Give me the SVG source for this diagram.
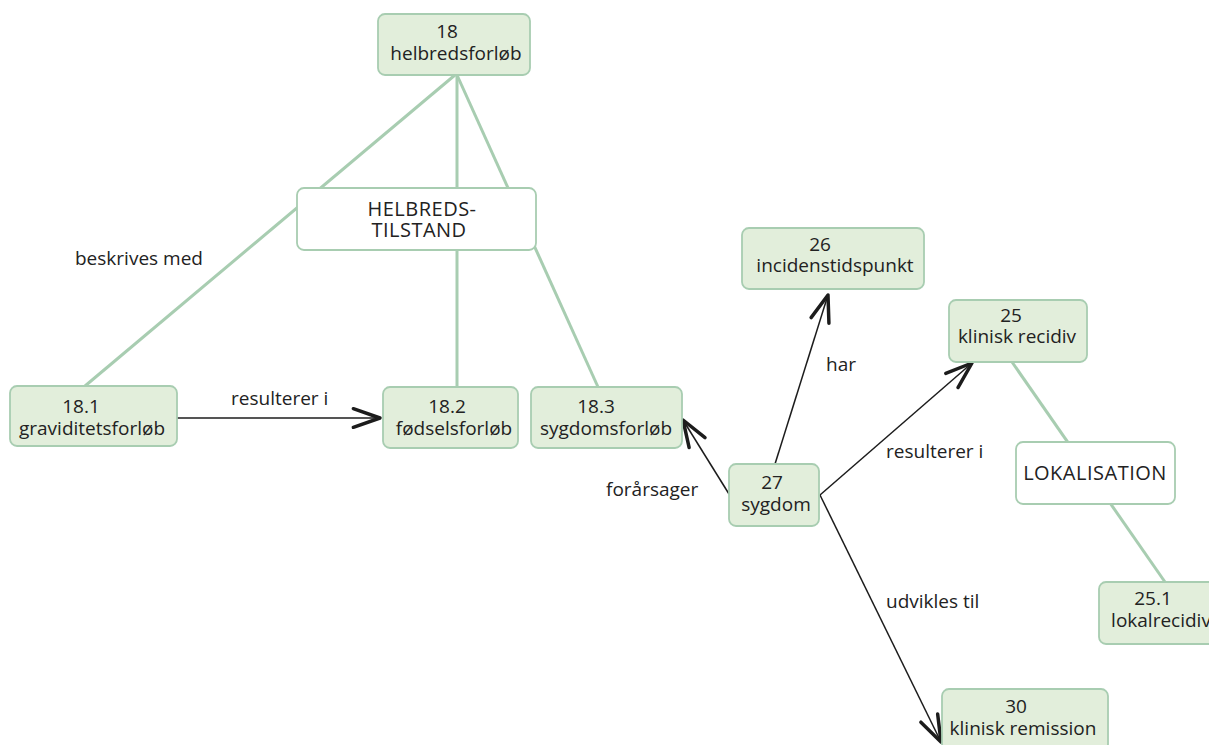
<svg xmlns="http://www.w3.org/2000/svg" width="1209" height="745" viewBox="0 0 1209 745">
<defs>
<style>
.n rect{fill:#e2eedb;stroke:#a8cdb1;stroke-width:1.8}
.w rect{fill:#ffffff;stroke:#a8cdb1;stroke-width:1.8}
text{font-family:"Open Sans","Liberation Sans",sans-serif;font-size:19px;fill:#222222;text-anchor:middle}
.caps{font-size:20px;letter-spacing:0.5px}
.lbl{text-anchor:start}
.g line{stroke:#a8cdb1;stroke-width:3}
.b line{stroke:#1c1c1c;stroke-width:1.5;marker-end:url(#arr)}
</style>
<marker id="arr" markerUnits="userSpaceOnUse" markerWidth="40" markerHeight="40" refX="0" refY="0" orient="auto" overflow="visible" viewBox="-25 -12 30 24">
<path d="M-20,-7 L0,0 L-20,7" fill="none" stroke="#1c1c1c" stroke-width="2.6" stroke-linejoin="round" stroke-linecap="round"/>
</marker>
</defs>
<g id="connectors">
<g class="g">
<line x1="455" y1="75" x2="85" y2="386"/>
<line x1="457" y1="75" x2="457" y2="387"/>
<line x1="457" y1="75" x2="598" y2="387"/>
<line x1="1012" y1="362" x2="1165" y2="582"/>
</g>
<g class="b">
<line x1="177" y1="418" x2="380" y2="418"/>
<line x1="729" y1="494" x2="683" y2="420"/>
<line x1="775" y1="464" x2="828" y2="295"/>
<line x1="820" y1="495" x2="972" y2="363"/>
<line x1="820" y1="495" x2="941" y2="742"/>
</g>
<text class="lbl" x="75" y="265">beskrives med</text>
<text class="lbl" x="231" y="405">resulterer i</text>
<text class="lbl" x="826" y="371">har</text>
<text class="lbl" x="886" y="458">resulterer i</text>
<text class="lbl" x="606" y="496">forårsager</text>
<text class="lbl" x="886" y="608">udvikles til</text>
</g>
<g id="n18" class="n"><rect x="378" y="14" width="152" height="61" rx="7"/><text><tspan x="447" y="38">18</tspan><tspan x="456" y="60">helbredsforløb</tspan></text></g>
<g id="nHelbred" class="w"><rect x="297" y="188" width="239" height="62" rx="7"/><text class="caps"><tspan x="422" y="216">HELBREDS-</tspan><tspan x="419" y="237">TILSTAND</tspan></text></g>
<g id="n18_1" class="n"><rect x="10" y="386" width="167" height="60" rx="7"/><text><tspan x="81" y="413">18.1</tspan><tspan x="92" y="435">graviditetsforløb</tspan></text></g>
<g id="n18_2" class="n"><rect x="383" y="387" width="135" height="61" rx="7"/><text><tspan x="447" y="413">18.2</tspan><tspan x="454" y="435">fødselsforløb</tspan></text></g>
<g id="n18_3" class="n"><rect x="531" y="387" width="151" height="61" rx="7"/><text><tspan x="596" y="413">18.3</tspan><tspan x="606" y="435">sygdomsforløb</tspan></text></g>
<g id="n27" class="n"><rect x="729" y="464" width="90" height="62" rx="7"/><text><tspan x="772" y="489">27</tspan><tspan x="776" y="511">sygdom</tspan></text></g>
<g id="n26" class="n"><rect x="742" y="228" width="182" height="61" rx="7"/><text><tspan x="820" y="251">26</tspan><tspan x="835" y="272">incidenstidspunkt</tspan></text></g>
<g id="n25" class="n"><rect x="949" y="300" width="138" height="62" rx="7"/><text><tspan x="1011" y="322">25</tspan><tspan x="1017" y="343">klinisk recidiv</tspan></text></g>
<g id="nLokal" class="w"><rect x="1016" y="442" width="159" height="62" rx="7"/><text class="caps" x="1095" y="480">LOKALISATION</text></g>
<g id="n25_1" class="n"><rect x="1099" y="582" width="126" height="62" rx="7"/><text><tspan x="1153" y="605">25.1</tspan><tspan x="1161" y="627">lokalrecidiv</tspan></text></g>
<g id="n30" class="n"><rect x="942" y="689" width="166" height="62" rx="7"/><text><tspan x="1016" y="713">30</tspan><tspan x="1023" y="735">klinisk remission</tspan></text></g>
</svg>
